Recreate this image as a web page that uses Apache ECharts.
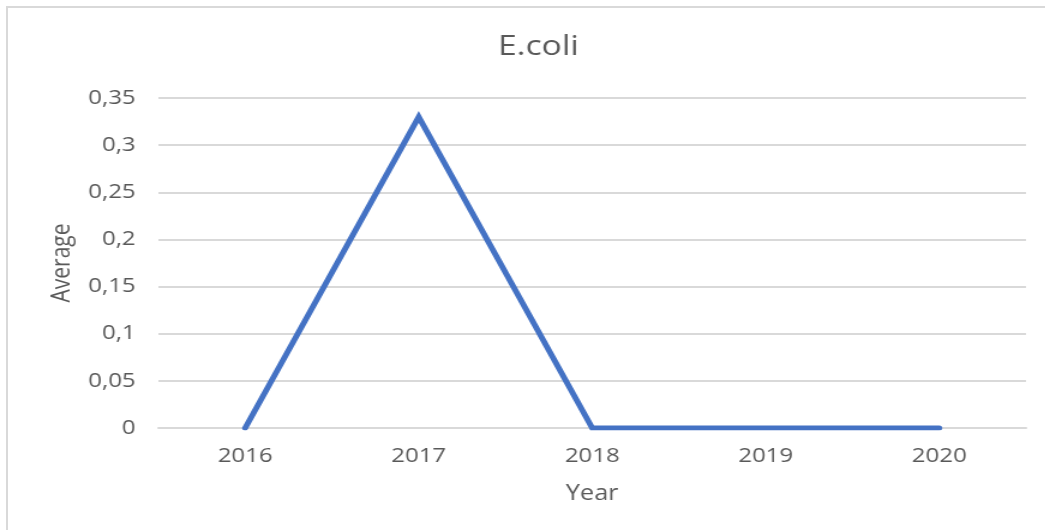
<!DOCTYPE html>
<html>
<head>
<meta charset="utf-8">
<script src="https://cdn.jsdelivr.net/npm/echarts@6/dist/echarts.min.js"></script>
<style>
  html, body { margin: 0; padding: 0; background: #fff; overflow: hidden; }
  #frame { position: absolute; left: 6px; top: 6px; width: 1100px; height: 600px; border: 2px solid #d9d9d9; box-sizing: border-box; }
  /* the reference text is a bit wider than it is tall, so the chart is drawn narrow and stretched */
  #chart { position: absolute; left: 0; top: 0; width: 871px; height: 530px; transform: scaleX(1.2); transform-origin: 0 0; }
</style>
</head>
<body>
<div id="frame"></div>
<div id="chart"></div>
<script>
// data
const years = ['2016', '2017', '2018', '2019', '2020'];
const average = [0, 0.33, 0, 0, 0];
const yTicks = [0, 0.05, 0.1, 0.15, 0.2, 0.25, 0.3, 0.35];

const chart = echarts.init(document.getElementById('chart'));
const txt = '#595959';
const font = "'Open Sans', 'DejaVu Sans', sans-serif";

chart.setOption({
  animation: false,
  title: {
    text: 'E.coli',
    left: 410,
    top: 28,
    textStyle: { fontFamily: font, fontSize: 28, fontWeight: 'normal', color: txt }
  },
  grid: { left: 132, right: 16, top: 98, bottom: 102 },
  xAxis: {
    type: 'category',
    data: years,
    boundaryGap: true,
    name: 'Year',
    nameLocation: 'middle',
    nameGap: 56,
    nameTextStyle: { fontFamily: font, fontSize: 21, color: txt },
    axisLine: { lineStyle: { color: '#d9d9d9', width: 2 } },
    axisTick: { show: false },
    axisLabel: { fontFamily: font, fontSize: 20, color: txt, margin: 18 }
  },
  yAxis: {
    type: 'value',
    min: yTicks[0],
    max: yTicks[yTicks.length - 1],
    interval: 0.05,
    name: 'Average',
    nameLocation: 'middle',
    nameGap: 69,
    nameTextStyle: { fontFamily: font, fontSize: 21, color: txt },
    axisLine: { show: false },
    axisTick: { show: false },
    splitLine: { lineStyle: { color: '#d9d9d9', width: 2 } },
    axisLabel: {
      fontFamily: font, fontSize: 20, color: txt, margin: 19,
      formatter: v => String(+v.toFixed(2)).replace('.', ',')
    }
  },
  series: [{
    name: 'Average',
    type: 'line',
    data: average,
    symbol: 'none',
    lineStyle: { color: '#4472c4', width: 5, cap: 'round', join: 'miter' }
  }]
});
</script>
</body>
</html>
